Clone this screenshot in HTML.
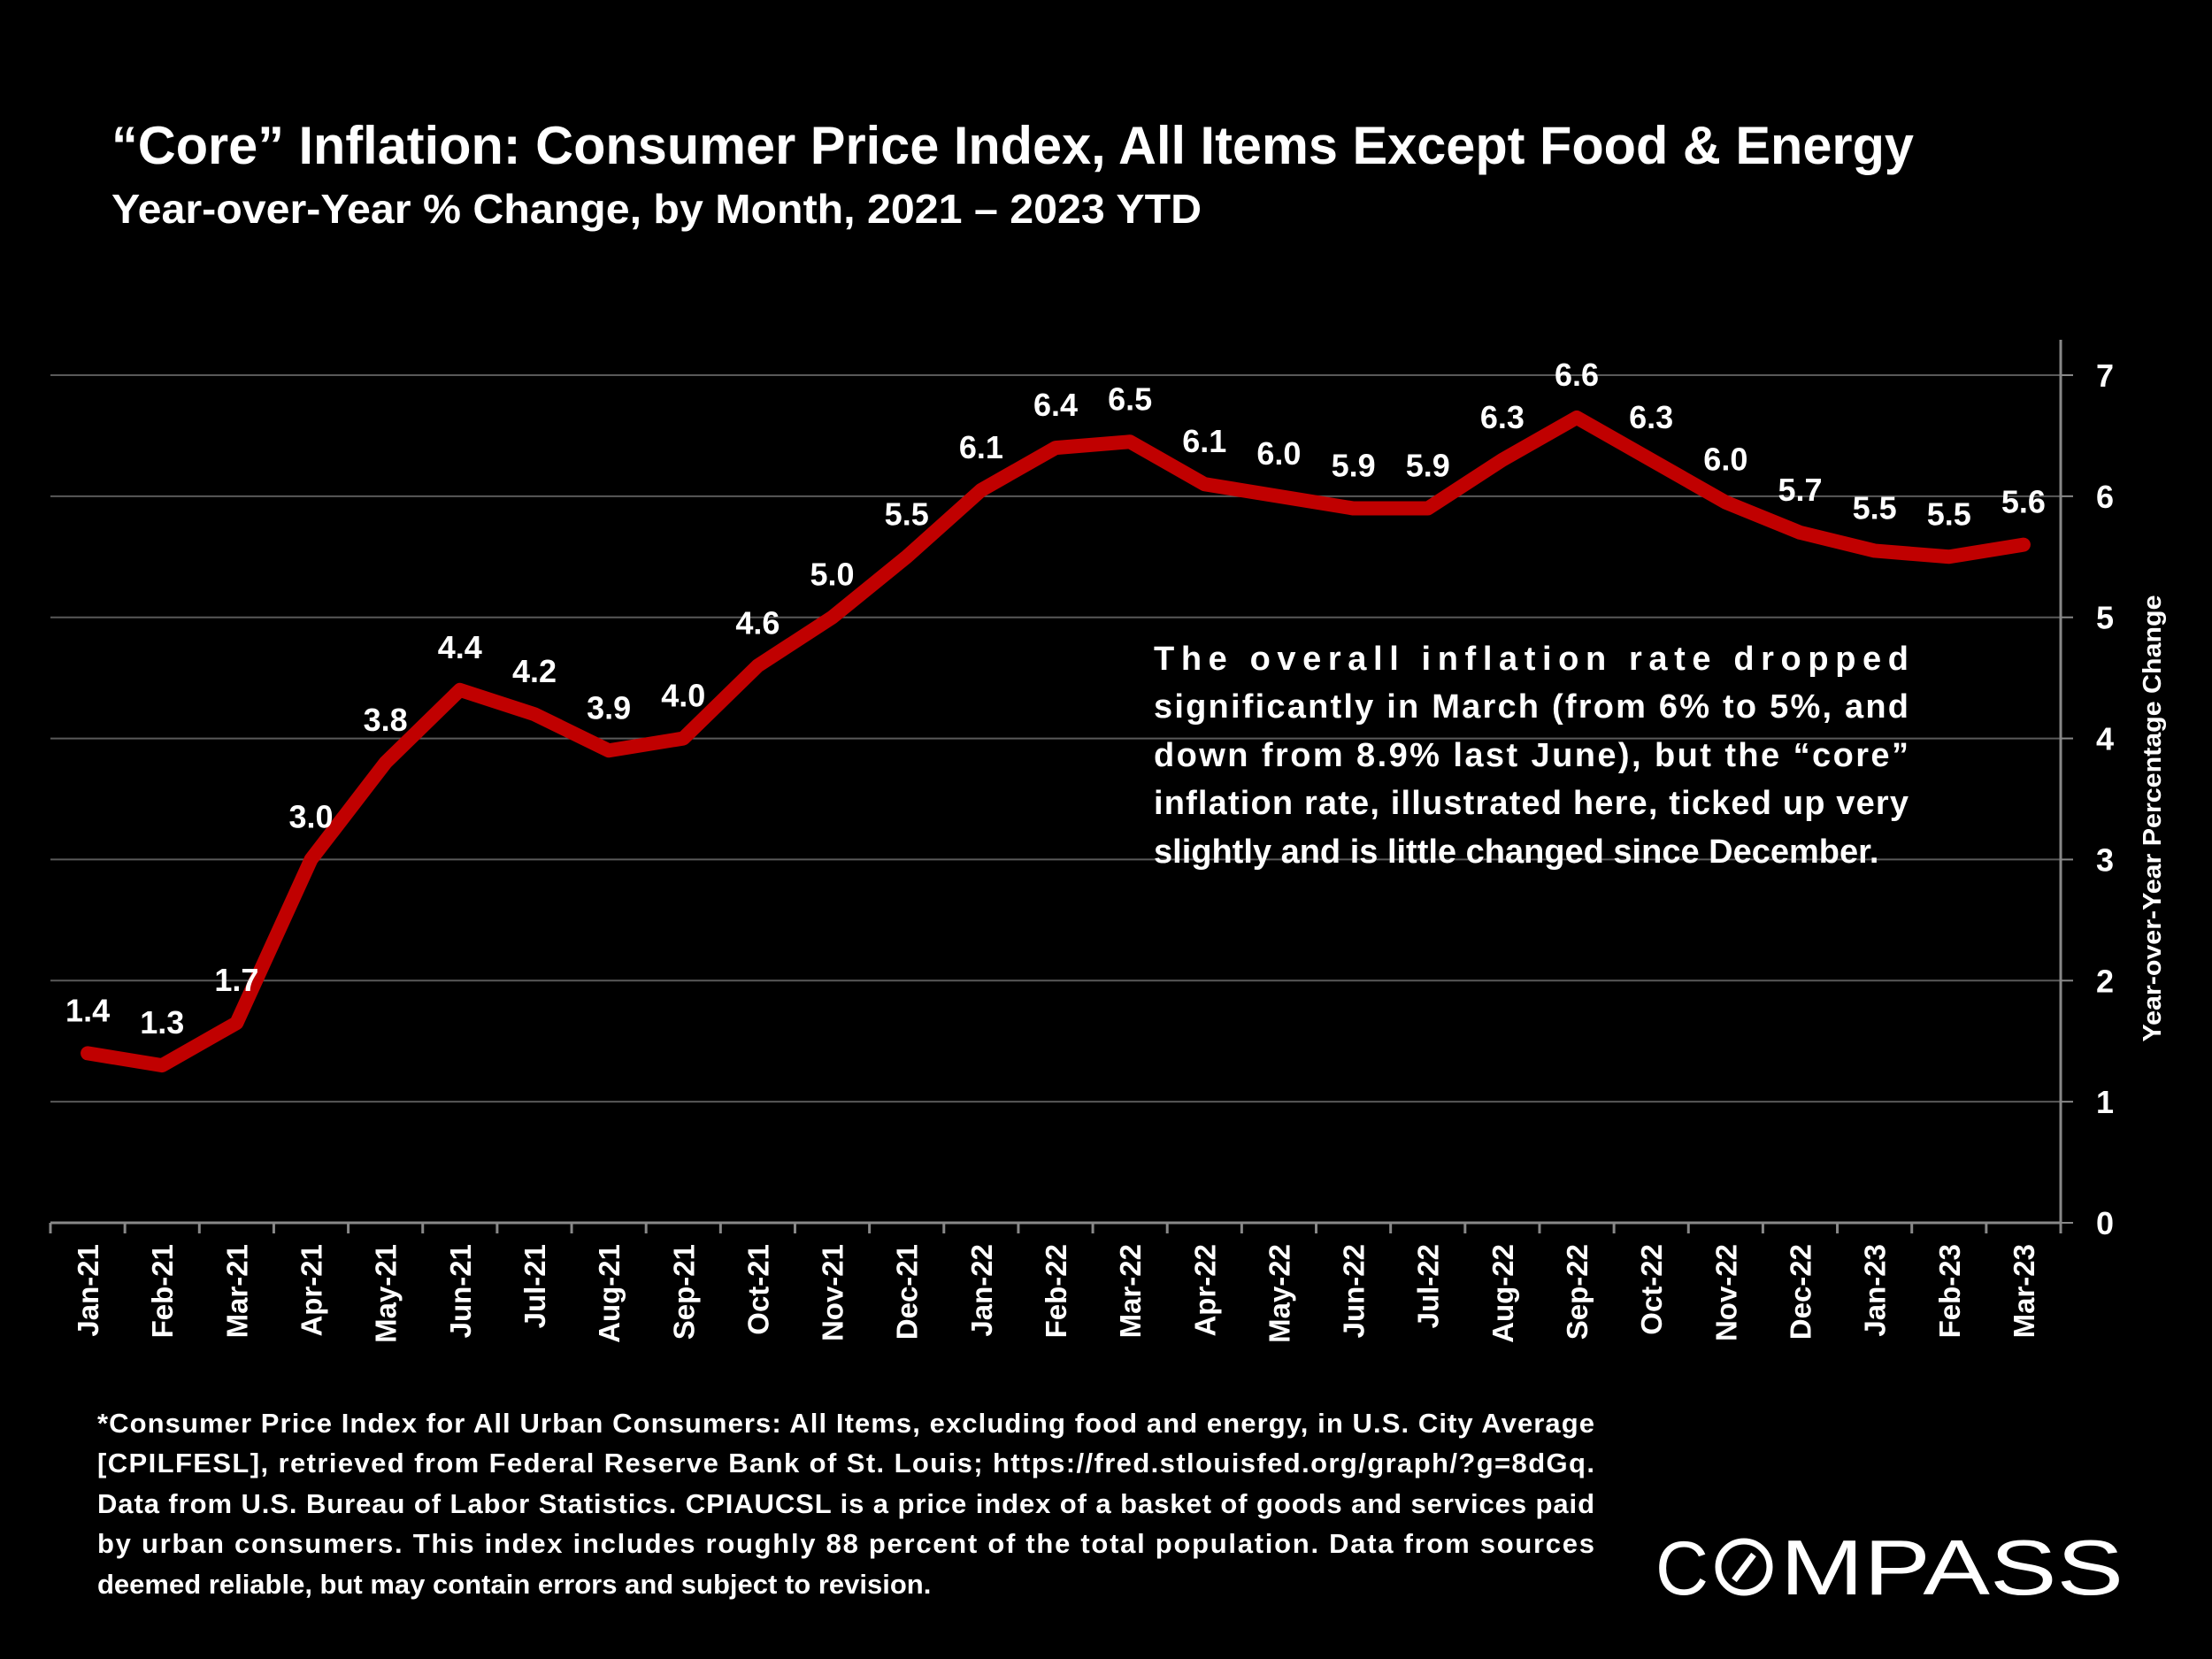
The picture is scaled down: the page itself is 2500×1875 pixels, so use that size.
<!DOCTYPE html>
<html><head><meta charset="utf-8"><style>
html,body{margin:0;padding:0;background:#000;}
svg{display:block;}
text{font-family:"Liberation Sans",sans-serif;}
</style></head><body>
<svg id="chart" width="2500" height="1875" viewBox="0 0 2500 1875" xmlns="http://www.w3.org/2000/svg">
<rect width="2500" height="1875" fill="#000"/>
<text x="126" y="185" fill="#fff" font-size="60" font-weight="bold" textLength="2037" lengthAdjust="spacingAndGlyphs">“Core” Inflation: Consumer Price Index, All Items Except Food &amp; Energy</text>
<text x="126" y="252" fill="#fff" font-size="46" font-weight="bold" textLength="1232" lengthAdjust="spacingAndGlyphs">Year-over-Year % Change, by Month, 2021 – 2023 YTD</text>
<g id="grid"></g>
<g id="axes"></g>
<g id="series"></g>
<g id="labels"></g>
<text transform="translate(2442,925) rotate(-90)" text-anchor="middle" fill="#fff" font-size="29" font-weight="bold" textLength="505" lengthAdjust="spacingAndGlyphs">Year-over-Year Percentage Change</text>
<g fill="#fff" font-size="38" font-weight="bold">
<text x="1304" y="757" textLength="853" lengthAdjust="spacing">The overall inflation rate dropped</text>
<text x="1304" y="811" textLength="853" lengthAdjust="spacing">significantly in March (from 6% to 5%, and</text>
<text x="1304" y="866" textLength="853" lengthAdjust="spacing">down from 8.9% last June), but the “core”</text>
<text x="1304" y="920" textLength="853" lengthAdjust="spacing">inflation rate, illustrated here, ticked up very</text>
<text x="1304" y="975">slightly and is little changed since December.</text>
</g>
<g fill="#fff" font-size="31" font-weight="bold">
<text x="110" y="1619" textLength="1692" lengthAdjust="spacing">*Consumer Price Index for All Urban Consumers: All Items, excluding food and energy, in U.S. City Average</text>
<text x="110" y="1664" textLength="1692" lengthAdjust="spacing">[CPILFESL], retrieved from Federal Reserve Bank of St. Louis; https://fred.stlouisfed.org/graph/?g=8dGq.</text>
<text x="110" y="1710" textLength="1692" lengthAdjust="spacing">Data from U.S. Bureau of Labor Statistics. CPIAUCSL is a price index of a basket of goods and services paid</text>
<text x="110" y="1755" textLength="1692" lengthAdjust="spacing">by urban consumers. This index includes roughly 88 percent of the total population. Data from sources</text>
<text x="110" y="1801">deemed reliable, but may contain errors and subject to revision.</text>
</g>
<g fill="#fff">
<text x="1871" y="1802" font-size="86" textLength="60" lengthAdjust="spacingAndGlyphs">C</text>
<circle cx="1971" cy="1771" r="29" fill="none" stroke="#fff" stroke-width="7"/>
<line x1="1960" y1="1786" x2="1982" y2="1757" stroke="#fff" stroke-width="7"/>
<text x="2012" y="1802" font-size="88" textLength="388" lengthAdjust="spacingAndGlyphs">MPASS</text>
</g>
</svg>
<script>
const categories=["Jan-21","Feb-21","Mar-21","Apr-21","May-21","Jun-21","Jul-21","Aug-21","Sep-21","Oct-21","Nov-21","Dec-21","Jan-22","Feb-22","Mar-22","Apr-22","May-22","Jun-22","Jul-22","Aug-22","Sep-22","Oct-22","Nov-22","Dec-22","Jan-23","Feb-23","Mar-23"];
const values=[1.4,1.3,1.65,3.0,3.8,4.4,4.2,3.9,4.0,4.6,5.0,5.5,6.05,6.4,6.45,6.1,6.0,5.9,5.9,6.3,6.65,6.3,5.95,5.7,5.55,5.5,5.6];
const valueLabels=["1.4","1.3","1.7","3.0","3.8","4.4","4.2","3.9","4.0","4.6","5.0","5.5","6.1","6.4","6.5","6.1","6.0","5.9","5.9","6.3","6.6","6.3","6.0","5.7","5.5","5.5","5.6"];
const yTicks=[0,1,2,3,4,5,6,7];
const NS="http://www.w3.org/2000/svg";
const L=57,R=2329,T=424,B=1382,YMAX=7;
const bw=(R-L)/categories.length;
function xs(i){return L+bw*(i+0.5);}
function ys(v){return B-(v/YMAX)*(B-T);}
function mk(tag,attrs,parent){const e=document.createElementNS(NS,tag);for(const k in attrs)e.setAttribute(k,attrs[k]);parent.appendChild(e);return e;}
const grid=document.getElementById('grid'),axes=document.getElementById('axes'),series=document.getElementById('series'),labels=document.getElementById('labels');
yTicks.forEach(t=>{
 if(t>0){const g=mk('line',{x1:L,x2:R,y1:ys(t),y2:ys(t),stroke:'#595959','stroke-width':2},grid);
 
 }
 const tk=mk('line',{x1:R,x2:R+14,y1:ys(t),y2:ys(t),stroke:'#888','stroke-width':2},axes);
 
 
 const tl=mk('text',{x:R+50,y:ys(t)+13,'text-anchor':'middle',fill:'#fff','font-size':36,'font-weight':'bold'},axes);
 tl.textContent=t;
 
 
});
const ax=mk('line',{x1:L,x2:R,y1:B,y2:B,stroke:'#888','stroke-width':3},axes);


const ay=mk('line',{x1:R,x2:R,y1:T-40,y2:B+6,stroke:'#888','stroke-width':3},axes);


for(let i=0;i<=categories.length;i++){
 const x=L+bw*i;
 const tk=mk('line',{x1:x,x2:x,y1:B,y2:B+12,stroke:'#888','stroke-width':3},axes);
 
 
}
categories.forEach((c,i)=>{
 const t=mk('text',{transform:`translate(${xs(i)+12},${B+24}) rotate(-90)`,'text-anchor':'end',fill:'#fff','font-size':33,'font-weight':'bold'},axes);
 t.textContent=c;
 
 
});
const pts=values.map((v,i)=>xs(i)+','+ys(v)).join(' ');
const pl=mk('polyline',{points:pts,fill:'none',stroke:'#C00000','stroke-width':16,'stroke-linejoin':'round','stroke-linecap':'round'},series);


values.forEach((v,i)=>{
 const t=mk('text',{x:xs(i),y:ys(v)-36,'text-anchor':'middle',fill:'#fff','font-size':36,'font-weight':'bold'},labels);
 t.textContent=valueLabels[i];
 
 
});
</script>
</body></html>
